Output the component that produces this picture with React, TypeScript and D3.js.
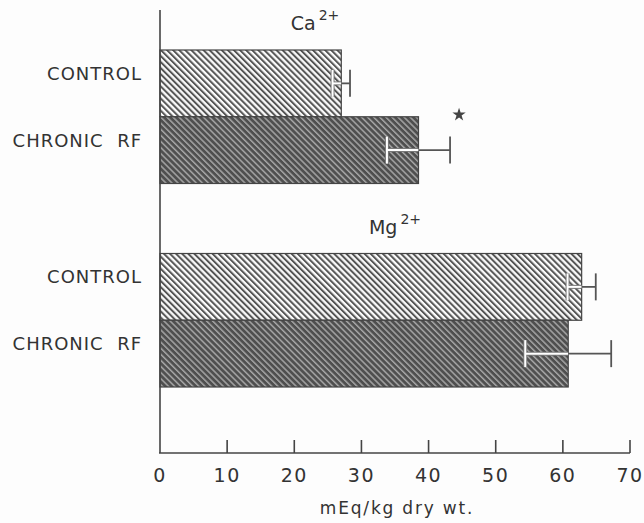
import React from "react";
import * as d3 from "d3";

const groups = ["Ca", "Mg"];
const groupCharges = ["2+", "2+"];
const conditions = ["CONTROL", "CHRONIC  RF"];
const caMeans = [27.0, 38.5];
const caErrors = [1.3, 4.7];
const mgMeans = [62.8, 60.8];
const mgErrors = [2.1, 6.4];
const caSignificant = [false, true];
const mgSignificant = [false, false];
const xTicks = [0, 10, 20, 30, 40, 50, 60, 70];
const xAxisLabel = "mEq/kg dry wt.";

const W = 644;
const H = 523;
const INK = "#333";
const FONT = "'DejaVu Sans', Verdana, sans-serif";

export default function App() {
  const x = d3.scaleLinear().domain([0, 70]).range([160, 630]);
  const yGroup = d3.scaleBand<string>().domain(groups).range([50, 387]).paddingInner(0.344);
  const yCond = d3.scaleBand<string>().domain(conditions).range([0, yGroup.bandwidth()]).padding(0);

  const data = groups.map((g, gi) => ({
    group: g,
    charge: groupCharges[gi],
    rows: conditions.map((c, ci) => ({
      cond: c,
      mean: gi === 0 ? caMeans[ci] : mgMeans[ci],
      err: gi === 0 ? caErrors[ci] : mgErrors[ci],
      sig: gi === 0 ? caSignificant[ci] : mgSignificant[ci],
    })),
  }));

  const groupLabelX = [315, 395];
  const axisY = 453;
  const capH = 27;
  const star = d3.symbol().type(d3.symbolStar).size(55)();

  return (
    <svg
      width={W}
      height={H}
      viewBox={`0 0 ${W} ${H}`}
      style={{ position: "absolute", left: 0, top: 0, background: "#fdfdfd" }}
      fontFamily={FONT}
    >
      <defs>
        <pattern id="hatchLight" patternUnits="userSpaceOnUse" width={4.3} height={10} patternTransform="rotate(-45)">
          <rect width={4.3} height={10} fill="#fbfbfb" />
          <rect x={0} width={2.0} height={10} fill="#555" />
        </pattern>
        <pattern id="hatchDark" patternUnits="userSpaceOnUse" width={4.3} height={10} patternTransform="rotate(-45)">
          <rect width={4.3} height={10} fill="#4f4f4f" />
          <rect x={0} width={1.5} height={10} fill="#a5a5a5" />
        </pattern>
      </defs>

      {data.map((g) => {
        const gy = yGroup(g.group)!;
        return (
          <g key={g.group}>
            {g.rows.map((r, ri) => {
              const y0 = gy + yCond(r.cond)!;
              const bh = yCond.bandwidth();
              const cy = y0 + bh / 2;
              return (
                <g key={r.cond}>
                  <rect
                    x={x(0)}
                    y={y0}
                    width={x(r.mean) - x(0)}
                    height={bh}
                    fill={ri === 0 ? "url(#hatchLight)" : "url(#hatchDark)"}
                    stroke="#444"
                    strokeWidth={1.2}
                  />
                  <line x1={x(r.mean - r.err)} x2={x(r.mean)} y1={cy} y2={cy} stroke="#777" strokeWidth={4} />
                  <line x1={x(r.mean - r.err)} x2={x(r.mean - r.err)} y1={cy - capH / 2} y2={cy + capH / 2} stroke="#777" strokeWidth={4} />
                  <line x1={x(r.mean - r.err)} x2={x(r.mean)} y1={cy} y2={cy} stroke="#fff" strokeWidth={2} />
                  <line x1={x(r.mean - r.err)} x2={x(r.mean - r.err)} y1={cy - capH / 2} y2={cy + capH / 2} stroke="#fff" strokeWidth={2} />
                  <line x1={x(r.mean)} x2={x(r.mean + r.err)} y1={cy} y2={cy} stroke="#555" strokeWidth={1.8} />
                  <line x1={x(r.mean + r.err)} x2={x(r.mean + r.err)} y1={cy - capH / 2} y2={cy + capH / 2} stroke="#555" strokeWidth={1.8} />
                  {r.sig && (
                    <path d={star!} transform={`translate(${x(r.mean + r.err) + 9},${y0 - 2})`} fill="#444" />
                  )}
                  <text
                    x={142}
                    y={cy - 3.5}
                    textAnchor="end"
                    fontSize={18}
                    letterSpacing={1}
                    fill={INK}
                    style={{ whiteSpace: "pre" }}
                  >
                    {r.cond}
                  </text>
                </g>
              );
            })}
          </g>
        );
      })}

      {data.map((g, gi) => (
        <text key={g.group} x={groupLabelX[gi]} y={yGroup(g.group)! - 20} textAnchor="middle" fontSize={19} fill={INK}>
          {g.group}
          <tspan fontSize={14} dy={-10} dx={3}>
            {g.charge}
          </tspan>
        </text>
      ))}

      <line x1={x(0)} x2={x(0)} y1={10} y2={axisY} stroke="#444" strokeWidth={1.6} />

      <line x1={x(0) - 1} x2={x(70)} y1={axisY} y2={axisY} stroke="#444" strokeWidth={1.6} />
      {xTicks.map((t) => (
        <g key={t}>
          {t > 0 && <line x1={x(t)} x2={x(t)} y1={axisY} y2={axisY - 13} stroke="#444" strokeWidth={1.6} />}
          <text x={x(t)} y={482} textAnchor="middle" fontSize={19} letterSpacing={1.5} fill={INK}>
            {t}
          </text>
        </g>
      ))}
      <text x={397} y={514} textAnchor="middle" fontSize={17} letterSpacing={1.8} fill={INK}>
        {xAxisLabel}
      </text>
    </svg>
  );
}
